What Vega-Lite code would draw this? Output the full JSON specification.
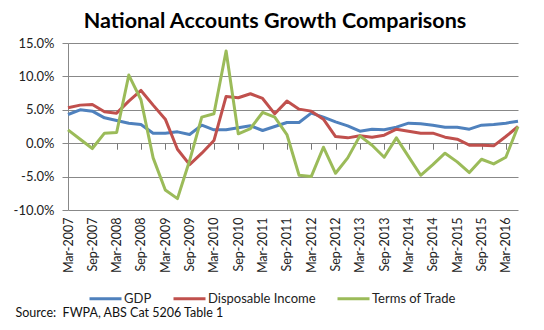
{
  "$schema": "https://vega.github.io/schema/vega-lite/v6.json",
  "width": 450,
  "height": 167,
  "autosize": {"type": "none"},
  "padding": {"left": 68, "top": 43, "right": 26, "bottom": 120},
  "background": "white",
  "config": {"view": {"stroke": null}, "font": "Lato"},
  "title": {
    "text": "National Accounts Growth Comparisons",
    "fontSize": 21.5,
    "font": "Lato",
    "fontWeight": "bold",
    "color": "#000000",
    "anchor": "middle",
    "frame": "group",
    "dx": -18,
    "offset": 5
  },
  "data": {
    "values": [
      {"q": "Mar-2007", "GDP": 4.3, "Disposable Income": 5.3, "Terms of Trade": 2.0},
      {"q": "Jun-2007", "GDP": 5.0, "Disposable Income": 5.7, "Terms of Trade": 0.6},
      {"q": "Sep-2007", "GDP": 4.8, "Disposable Income": 5.8, "Terms of Trade": -0.8},
      {"q": "Dec-2007", "GDP": 3.8, "Disposable Income": 4.7, "Terms of Trade": 1.5},
      {"q": "Mar-2008", "GDP": 3.4, "Disposable Income": 4.5, "Terms of Trade": 1.6},
      {"q": "Jun-2008", "GDP": 3.0, "Disposable Income": 6.3, "Terms of Trade": 10.2},
      {"q": "Sep-2008", "GDP": 2.8, "Disposable Income": 7.9, "Terms of Trade": 6.5},
      {"q": "Dec-2008", "GDP": 1.5, "Disposable Income": 5.7, "Terms of Trade": -2.2},
      {"q": "Mar-2009", "GDP": 1.5, "Disposable Income": 3.6, "Terms of Trade": -7.0},
      {"q": "Jun-2009", "GDP": 1.7, "Disposable Income": -0.9, "Terms of Trade": -8.3},
      {"q": "Sep-2009", "GDP": 1.3, "Disposable Income": -3.2, "Terms of Trade": -2.6},
      {"q": "Dec-2009", "GDP": 2.7, "Disposable Income": -1.5, "Terms of Trade": 3.9},
      {"q": "Mar-2010", "GDP": 2.0, "Disposable Income": 0.4, "Terms of Trade": 4.4},
      {"q": "Jun-2010", "GDP": 2.0, "Disposable Income": 7.0, "Terms of Trade": 13.8},
      {"q": "Sep-2010", "GDP": 2.3, "Disposable Income": 6.8, "Terms of Trade": 1.4},
      {"q": "Dec-2010", "GDP": 2.6, "Disposable Income": 7.4, "Terms of Trade": 2.2},
      {"q": "Mar-2011", "GDP": 1.9, "Disposable Income": 6.7, "Terms of Trade": 4.6},
      {"q": "Jun-2011", "GDP": 2.5, "Disposable Income": 4.4, "Terms of Trade": 3.9},
      {"q": "Sep-2011", "GDP": 3.1, "Disposable Income": 6.3, "Terms of Trade": 1.3},
      {"q": "Dec-2011", "GDP": 3.1, "Disposable Income": 5.1, "Terms of Trade": -4.8},
      {"q": "Mar-2012", "GDP": 4.5, "Disposable Income": 4.8, "Terms of Trade": -5.0},
      {"q": "Jun-2012", "GDP": 3.9, "Disposable Income": 3.6, "Terms of Trade": -0.6},
      {"q": "Sep-2012", "GDP": 3.2, "Disposable Income": 1.0, "Terms of Trade": -4.5},
      {"q": "Dec-2012", "GDP": 2.6, "Disposable Income": 0.8, "Terms of Trade": -2.2},
      {"q": "Mar-2013", "GDP": 1.8, "Disposable Income": 1.1, "Terms of Trade": 1.1},
      {"q": "Jun-2013", "GDP": 2.1, "Disposable Income": 0.9, "Terms of Trade": -0.3},
      {"q": "Sep-2013", "GDP": 2.0, "Disposable Income": 1.2, "Terms of Trade": -2.1},
      {"q": "Dec-2013", "GDP": 2.4, "Disposable Income": 2.1, "Terms of Trade": 0.8},
      {"q": "Mar-2014", "GDP": 3.0, "Disposable Income": 1.8, "Terms of Trade": -2.0},
      {"q": "Jun-2014", "GDP": 2.9, "Disposable Income": 1.5, "Terms of Trade": -4.8},
      {"q": "Sep-2014", "GDP": 2.7, "Disposable Income": 1.5, "Terms of Trade": -3.2},
      {"q": "Dec-2014", "GDP": 2.4, "Disposable Income": 0.9, "Terms of Trade": -1.5},
      {"q": "Mar-2015", "GDP": 2.4, "Disposable Income": 0.6, "Terms of Trade": -2.8},
      {"q": "Jun-2015", "GDP": 2.1, "Disposable Income": -0.3, "Terms of Trade": -4.4},
      {"q": "Sep-2015", "GDP": 2.7, "Disposable Income": -0.3, "Terms of Trade": -2.4},
      {"q": "Dec-2015", "GDP": 2.8, "Disposable Income": -0.4, "Terms of Trade": -3.1},
      {"q": "Mar-2016", "GDP": 3.0, "Disposable Income": 1.0, "Terms of Trade": -2.1},
      {"q": "Jun-2016", "GDP": 3.3, "Disposable Income": 2.5, "Terms of Trade": 2.5}
    ]
  },
  "transform": [
    {"fold": ["GDP", "Disposable Income", "Terms of Trade"], "as": ["series", "value"]}
  ],
  "layer": [
    {
      "mark": {"type": "line", "strokeWidth": 3, "strokeJoin": "round"},
      "encoding": {
        "x": {
          "field": "q",
          "type": "ordinal",
          "sort": null,
          "scale": {"type": "point", "padding": 0},
          "axis": {
            "orient": "bottom",
            "values": ["Mar-2007", "Sep-2007", "Mar-2008", "Sep-2008", "Mar-2009", "Sep-2009", "Mar-2010", "Sep-2010", "Mar-2011", "Sep-2011", "Mar-2012", "Sep-2012", "Mar-2013", "Sep-2013", "Mar-2014", "Sep-2014", "Mar-2015", "Sep-2015", "Mar-2016"],
            "labelAngle": -90,
            "labelFontSize": 12.5,
            "labelColor": "#222222",
            "labelPadding": 7,
            "labelBound": false,
            "labelOverlap": false,
            "ticks": false,
            "domain": false,
            "grid": false,
            "title": "Source:\u00a0\u00a0FWPA, ABS Cat 5206 Table 1",
            "titleFontSize": 12.5,
            "titleFontWeight": "normal",
            "titleColor": "#111111",
            "titleAlign": "left",
            "titleBaseline": "middle",
            "titleX": -53,
            "titleY": 102
          }
        },
        "y": {
          "field": "value",
          "type": "quantitative",
          "scale": {"domain": [-10, 15], "nice": false, "zero": false},
          "axis": {
            "values": [-10, -5, 0, 5, 10, 15],
            "labelExpr": "replace(format(datum.value, '.1f'), '\u2212', '-') + '%'",
            "grid": true,
            "gridColor": "#888888",
            "domainColor": "#888888",
            "tickColor": "#888888",
            "tickSize": 6,
            "labelFontSize": 13,
            "labelColor": "#222222",
            "labelPadding": 8,
            "title": null
          }
        },
        "color": {
          "field": "series",
          "type": "nominal",
          "scale": {
            "domain": ["GDP", "Disposable Income", "Terms of Trade"],
            "range": ["#4F81BD", "#C0504D", "#9BBB59"]
          },
          "legend": {
            "orient": "none",
            "legendX": 20,
            "legendY": 238,
            "direction": "horizontal",
            "title": null,
            "symbolType": "stroke",
            "symbolSize": 1024,
            "symbolStrokeWidth": 3,
            "labelFontSize": 13,
            "labelColor": "#222222",
            "labelOffset": 1,
            "columnPadding": 15
          }
        }
      }
    },
    {
      "mark": {"type": "point", "opacity": 0},
      "encoding": {
        "x": {
          "field": "q",
          "type": "ordinal",
          "sort": null,
          "scale": {"type": "point", "padding": 0},
          "axis": {
            "orient": "top",
            "offset": -100.2,
            "values": ["Mar-2007", "Sep-2007", "Mar-2008", "Sep-2008", "Mar-2009", "Sep-2009", "Mar-2010", "Sep-2010", "Mar-2011", "Sep-2011", "Mar-2012", "Sep-2012", "Mar-2013", "Sep-2013", "Mar-2014", "Sep-2014", "Mar-2015", "Sep-2015", "Mar-2016"],
            "labels": false,
            "domain": false,
            "grid": false,
            "ticks": true,
            "tickSize": -6,
            "tickWidth": 1,
            "tickColor": "#777777",
            "title": null
          }
        }
      }
    }
  ],
  "resolve": {"axis": {"x": "independent"}}
}
